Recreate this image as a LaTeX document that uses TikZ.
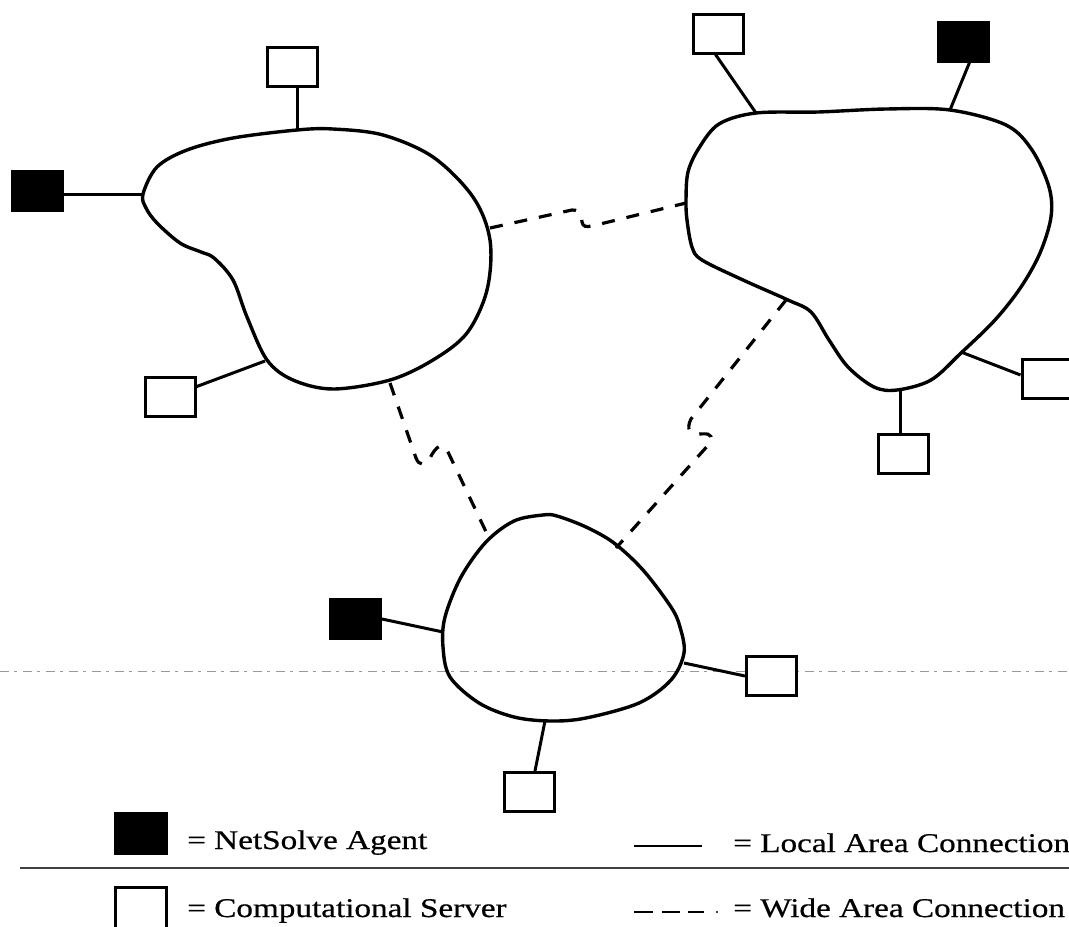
\documentclass[tikz,border=0pt]{standalone}
\usepackage{fontspec}
\setmainfont[FakeStretch=1.23,FakeBold=0.6]{Liberation Serif}
\begin{document}
\begin{tikzpicture}[x=1pt,y=-1pt,
  srv/.style={draw, line width=3pt, fill=white, minimum width=50pt, minimum height=39pt, inner sep=0pt},
  agt/.style={srv, fill=black},
  cloud/.style={line width=3.4pt, line join=round},
  lan/.style={line width=3pt},
  wan/.style={line width=3.2pt, dash pattern=on 13pt off 12pt},
  lbl/.style={anchor=base west, inner sep=0pt, font=\fontsize{27}{30}\selectfont},
  scan/.style={black!40, line width=0.8pt, dash pattern=on 9pt off 5pt on 3pt off 6pt}]
\useasboundingbox (0,0) rectangle (1069,927);

% scan artefact lines
\coordinate (s1a) at (0,671); \coordinate (s1b) at (1069,671);
\coordinate (s2a) at (20,868); \coordinate (s2b) at (1069,868);
\draw[scan] (s1a) -- (s1b);
\draw[black!75, line width=1.4pt] (s2a) -- (s2b);

% clouds
\draw[cloud] plot[smooth cycle, tension=0.55] coordinates {
 (143,194) (157,167) (187,150) (233,138) (297,130) (333,129) (383,135) (433,157)
 (473,197) (490,240) (487,290) (467,333) (433,360) (390,380) (333,389) (293,380)
 (267,360) (247,317) (233,280) (214,258) (201,252) (180,243) (157,223) (146,208)};
\draw[cloud] plot[smooth cycle, tension=0.55] coordinates {
 (686,200) (688,172) (699,148) (719,124) (756,113) (818,112) (886,109) (950,110)
 (1006,125) (1032,150) (1049,187) (1051,217) (1040,253) (1021,287) (995,320)
 (961,353) (931,380) (897,390) (874,387) (848,367) (829,340) (811,312) (788,300)
 (743,280) (702,260) (692,247) (687,220)};
\draw[cloud] plot[smooth cycle, tension=0.55] coordinates {
 (543,515) (514,521) (486,542) (461,577) (445,617) (443,647) (450,677) (479,703)
 (514,717) (550,721) (586,718) (639,703) (671,680) (684,653) (680,627) (671,607)
 (643,570) (614,543) (586,527) (557,516)};

% attachment points on the clouds
\coordinate (cAtop) at (297,130); \coordinate (cAleft) at (143,194);
\coordinate (cAbot) at (265,361); \coordinate (cAab) at (490,228);
\coordinate (cAac) at (390,383);
\coordinate (cBtl) at (756,113); \coordinate (cBag) at (950,110);
\coordinate (cBr) at (961,352); \coordinate (cBbot) at (900,390);
\coordinate (cBba) at (686,203); \coordinate (cBbc) at (786,300);
\coordinate (cCag) at (443,632); \coordinate (cCr) at (684,663);
\coordinate (cCbot) at (545,721); \coordinate (cCca) at (489,538);
\coordinate (cCcb) at (616,548);

% boxes
\node[srv] (aTop) at (292,67) {};
\node[agt] (aAg) at (37.5,190.5) {};
\node[srv] (aBot) at (170,396.5) {};
\node[srv] (bTL) at (718.5,33.5) {};
\node[agt] (bAg) at (963.5,41.5) {};
\node[srv] (bR) at (1047,379) {};
\node[srv] (bBot) at (903.5,453.5) {};
\node[agt] (cAg) at (355.5,619) {};
\node[srv] (cR) at (771.5,676) {};
\node[srv] (cBot) at (529,792) {};

% local connections
\draw[lan] (cAtop |- aTop.south) -- (cAtop);
\draw[lan] (aAg.east |- cAleft) -- (cAleft);
\draw[lan] (aBot) -- (cAbot);
\draw[lan] ([xshift=-3pt]bTL.south) -- (cBtl);
\draw[lan] ([xshift=6pt]bAg.south) -- (cBag);
\draw[lan] ([yshift=4pt]bR.west) -- (cBr);
\draw[lan] (cBbot |- bBot.north) -- (cBbot);
\draw[lan] (cAg.east) -- (cCag);
\draw[lan] (cR.west) -- (cCr);
\draw[lan] ([xshift=6pt]cBot.north) -- (cCbot);

% wide area connections
\draw[wan] (cAab) -- (572,210) .. controls (583,210) and (581,217) .. (582,222)
  .. controls (583,227) and (586,227) .. (592,226) -- (cBba);
\draw[wan] (cAac) -- (416,458) .. controls (419,466) and (425,466) .. (430,458)
  .. controls (436,446) and (443,441) .. (448,452) -- (cCca);
\draw[wan] (cBbc) -- (691,419) .. controls (686,429) and (690,434) .. (697,434)
  .. controls (706,434) and (713,432) .. (711,442) -- (cCcb);

% legend
\node[agt, minimum width=51pt, minimum height=40pt] (lAg) at (141,833.5) {};
\node[srv, minimum width=51pt, minimum height=52pt] (lSrv) at (141,913) {};
\node[lbl] (tAg) at (187,849) {= NetSolve Agent};
\node[lbl] (tSrv) at (187,917) {= Computational Server};
\coordinate (l1a) at (634,846); \coordinate (l1b) at (702,846);
\coordinate (l2a) at (634,912); \coordinate (l2b) at (704,912);
\coordinate (l2c) at (717,912);
\draw[line width=2.8pt] (l1a) -- (l1b);
\draw[line width=2.8pt, dash pattern=on 19pt off 9pt on 18pt off 8pt on 16pt off 20pt] (l2a) -- (l2b);
\fill (l2c) circle (1.2pt);
\node[lbl] (tLan) at (733,852) {= Local Area Connection};
\node[lbl] (tWan) at (733,917) {= Wide Area Connection};
\end{tikzpicture}
\end{document}
